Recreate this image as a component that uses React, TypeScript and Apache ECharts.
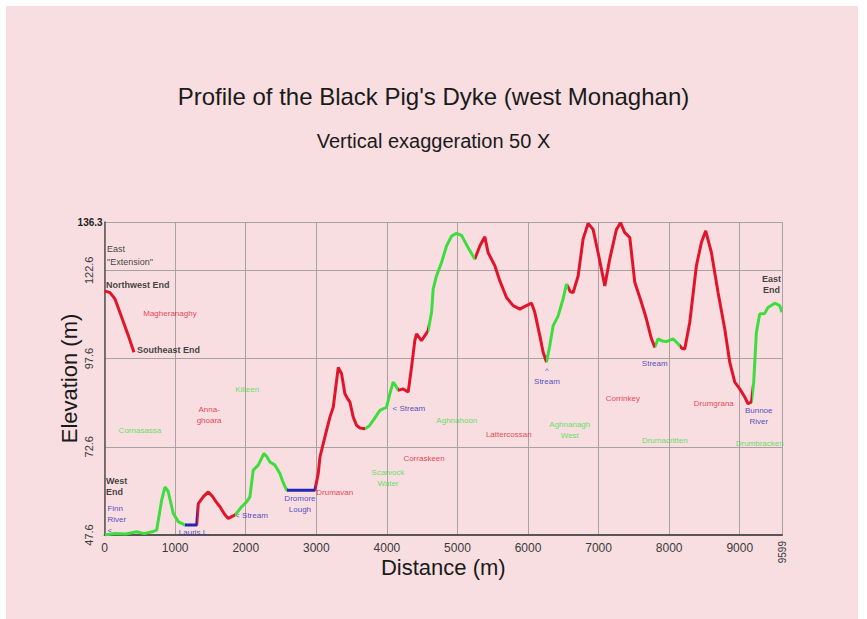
import React, { useEffect, useRef } from 'react';
import * as echarts from 'echarts';

const BASE = 47.6;
const TOP = 136.3;
const X_MAX = 9599;
const X_INTERVAL = 1000;
const Y_INTERVAL = 25;

const titleText = "Profile of the Black Pig's Dyke (west Monaghan)";
const subtitleText = 'Vertical exaggeration 50 X';

// East "Extension" profile (distance m, elevation m)
const extDist = [0, 76, 147, 242, 336, 416];
const extElev = [116.8, 116.3, 114.5, 109.3, 104.1, 99.4];

// Main profile
const profDist = [
  0, 150, 300, 455, 560, 690, 738, 809, 855, 900, 973, 1044, 1139, 1305, 1328, 1400, 1469, 1530, 1580,
  1635, 1700, 1752, 1800, 1847, 1942, 2012, 2059, 2106, 2177, 2258, 2300, 2343, 2414, 2484, 2530, 2579,
  2980, 3027, 3052, 3122, 3193, 3240, 3311, 3358, 3405, 3450, 3476, 3523, 3570, 3620, 3688, 3750, 3806,
  3901, 3995, 4042, 4089, 4137, 4160, 4231, 4302, 4349, 4396, 4420, 4491, 4585, 4633, 4656, 4703, 4774,
  4845, 4916, 4987, 5058, 5152, 5246, 5317, 5388, 5435, 5530, 5601, 5695, 5789, 5884, 5955, 6050, 6096,
  6167, 6214, 6262, 6309, 6356, 6427, 6497, 6545, 6600, 6639, 6710, 6780, 6851, 6922, 6993, 7088, 7158,
  7253, 7310, 7371, 7442, 7513, 7607, 7678, 7749, 7796, 7843, 7900, 7961, 8055, 8126, 8180, 8221, 8292,
  8386, 8457, 8518, 8599, 8693, 8788, 8859, 8930, 9000, 9071, 9118, 9166, 9198, 9236, 9283, 9354, 9401,
  9496, 9566, 9599,
];
const profElev = [
  47.6, 48.0, 47.9, 48.5, 48.0, 48.6, 49.0, 57.5, 61.2, 60.0, 53.7, 51.4, 50.4, 50.4, 56.5, 58.5, 59.8, 58.5, 57.0,
  55.6, 53.5, 52.3, 52.8, 53.2, 55.6, 57.0, 58.4, 66.0, 67.4, 70.7, 69.8, 68.3, 67.4, 65.0, 62.5, 60.3,
  60.3, 65.0, 69.7, 75.4, 81.0, 83.8, 95.1, 93.3, 87.6, 86.0, 85.3, 81.0, 78.7, 77.9, 77.7, 78.5, 80.1,
  82.9, 83.8, 87.6, 90.9, 89.5, 88.6, 89.0, 88.1, 95.1, 102.7, 104.6, 102.7, 105.5, 110.7, 117.3, 121.0, 124.8,
  129.5, 132.3, 133.1, 132.5, 129.0, 125.8, 129.5, 132.1, 127.6, 123.9, 119.6, 114.9, 112.6, 111.6, 112.4, 113.3, 110.7,
  104.1, 99.4, 96.6, 101.3, 106.9, 109.7, 114.5, 118.7, 116.5, 116.3, 121.0, 131.4, 135.9, 134.2, 127.6, 118.2, 125.8,
  134.2, 136.1, 133.3, 131.9, 119.2, 113.5, 108.8, 103.2, 100.8, 103.2, 102.6, 102.4, 103.2, 101.8, 100.5, 100.3, 107.9,
  123.9, 130.5, 133.8, 127.6, 116.3, 106.0, 96.5, 90.9, 89.0, 86.7, 84.8, 85.3, 90.9, 105.0, 110.2, 110.4, 112.1,
  113.3, 112.6, 110.7,
];

// Colour sections of the main profile (start distance, kind)
const segStart = [0, 1139, 1305, 1847, 2579, 2980, 3688, 4160, 4585, 5246, 6262, 6570, 7796, 8160, 9170];
const segKind = ['g', 'b', 'r', 'g', 'b', 'r', 'g', 'r', 'g', 'r', 'g', 'r', 'g', 'r', 'g'];

// Annotations
const noteText = [
  'East\n"Extension"', 'Northwest End', 'Magheranaghy', 'Southeast End', 'Killeen', 'Anna-\nghoara',
  'Cornasassa', 'West\nEnd', 'Finn\nRiver\n<', 'Lauris L.', '< Stream', 'Dromore\nLough', 'Drumavan',
  'Scarvock\nWater', 'Corraskeen', '< Stream', 'Aghnahoon', 'Lattercossan', 'Aghnanagh\nWest',
  '^\nStream', 'Corrinkey', 'Stream', 'Drumgrana', 'Bunnoe\nRiver', 'Drumacritten', 'Drumbracken', 'East\nEnd',
];
const noteDist = [
  34, 20, 926, 460, 2020, 1481, 501, 20, 40, 1269, 1850, 2768, 3000, 4016, 4527, 4080, 4991, 5728, 6592,
  6268, 7343, 7796, 8632, 9269, 7938, 9283, 9450,
];
const noteElev = [
  126.7, 118.5, 110.3, 99.9, 88.8, 81.5, 77.3, 61.4, 52.1, 48.2, 53.0, 56.4, 59.7, 63.7, 69.4, 83.5, 80.1, 76.1, 77.3,
  92.8, 86.3, 96.2, 84.9, 81.2, 74.4, 73.6, 118.5,
];
const noteKind = [
  'k', 'kb', 'r', 'kb', 'g', 'r', 'g', 'kb', 'b', 'b', 'b', 'b', 'r', 'g', 'r', 'b', 'g', 'r', 'g',
  'b', 'r', 'b', 'r', 'b', 'g', 'g', 'kb',
];
const noteAlign = [
  'left', 'left', 'center', 'left', 'center', 'center', 'center', 'left', 'left', 'center', 'left', 'center', 'left',
  'center', 'center', 'left', 'center', 'center', 'center', 'center', 'center', 'center', 'center', 'center',
  'center', 'center', 'center',
];

const COLORS: Record<string, string> = {
  r: '#e2142a',
  g: '#3ddd3d',
  b: '#2424b8',
  k: '#111111',
  kb: '#111111',
};

const FONT = '"Liberation Sans", Arial, Helvetica, sans-serif';

export default function App() {
  const ref = useRef<HTMLDivElement>(null);

  useEffect(() => {
    if (!ref.current) return;
    const chart = echarts.init(ref.current, undefined, { renderer: 'svg' });
    const yMax = TOP - BASE;

    const pieces = segStart.map((s, i) => {
      const p: any = { gte: s, color: COLORS[segKind[i]] };
      if (i < segStart.length - 1) p.lt = segStart[i + 1];
      else p.lte = X_MAX + 1;
      return p;
    });

    const notes = noteText.map((t, i) => ({
      value: [noteDist[i], noteElev[i] - BASE],
      label: {
        formatter: t,
        color: COLORS[noteKind[i]],
        fontWeight: noteKind[i] === 'kb' ? 'bold' : 'normal',
        fontSize: noteKind[i] === 'kb' || noteKind[i] === 'k' ? 9 : 8,
        align: noteAlign[i],
        lineHeight: noteKind[i] === 'k' ? 13 : 11,
      },
    }));

    const axisLabelBase = { fontFamily: FONT, color: '#3a3a3a' };

    chart.setOption({
      animation: false,
      backgroundColor: 'transparent',
      textStyle: { fontFamily: FONT },
      title: [
        {
          text: titleText,
          left: 'center',
          top: 79,
          textStyle: { fontSize: 24, fontWeight: 'normal', color: '#1a1a1a', fontFamily: FONT },
        },
        {
          text: subtitleText,
          left: 'center',
          top: 126,
          textStyle: { fontSize: 20, fontWeight: 'normal', color: '#1a1a1a', fontFamily: FONT },
        },
      ],
      grid: { left: 104.6, right: 85, top: 222, bottom: 84, containLabel: false },
      visualMap: {
        show: false,
        type: 'piecewise',
        dimension: 0,
        seriesIndex: 1,
        pieces,
      },
      xAxis: [
        {
          type: 'value',
          min: 0,
          max: X_MAX,
          interval: X_INTERVAL,
          axisLine: { show: true, lineStyle: { color: '#5a5555', width: 2 } },
          axisTick: { show: false },
          splitLine: { show: true, lineStyle: { color: '#a8a0a2', width: 1 } },
          axisLabel: {
            ...axisLabelBase,
            fontSize: 12,
            margin: 7,
            formatter: (v: number) => (v >= X_MAX ? '' : String(v)),
          },
          name: 'Distance (m)',
          nameLocation: 'middle',
          nameGap: 21,
          nameMoveOverlap: false,
          nameTextStyle: { fontSize: 22, color: '#1a1a1a', fontFamily: FONT },
        },
        {
          type: 'value',
          position: 'bottom',
          min: 0,
          max: X_MAX,
          interval: X_INTERVAL,
          axisLine: { show: false },
          axisTick: { show: false },
          splitLine: { show: false },
          axisLabel: {
            ...axisLabelBase,
            fontSize: 10,
            margin: 6,
            rotate: 90,
            formatter: (v: number) => (v >= X_MAX ? String(X_MAX) : ''),
          },
        },
      ],
      yAxis: [
        {
          type: 'value',
          min: 0,
          max: yMax,
          interval: Y_INTERVAL,
          axisLine: { show: true, lineStyle: { color: '#5a5555', width: 1.5 } },
          axisTick: { show: false },
          splitLine: { show: true, lineStyle: { color: '#a8a0a2', width: 1 } },
          axisLabel: {
            ...axisLabelBase,
            fontSize: 11,
            margin: 10,
            rotate: 90,
            formatter: (v: number) => (v >= yMax - 1e-6 ? '' : (v + BASE).toFixed(1)),
          },
          name: 'Elevation (m)',
          nameLocation: 'middle',
          nameGap: 24,
          nameMoveOverlap: false,
          nameTextStyle: { fontSize: 22, color: '#1a1a1a', fontFamily: FONT },
        },
        {
          type: 'value',
          position: 'left',
          min: 0,
          max: yMax,
          interval: Y_INTERVAL,
          axisLine: { show: false },
          axisTick: { show: false },
          splitLine: { show: false },
          axisLabel: {
            ...axisLabelBase,
            fontSize: 10,
            fontWeight: 'bold',
            color: '#222',
            margin: 2,
            formatter: (v: number) => (v >= yMax - 1e-6 ? TOP.toFixed(1) : ''),
          },
        },
      ],
      series: [
        {
          type: 'line',
          name: 'East Extension',
          data: extDist.map((d, i) => [d, extElev[i] - BASE]),
          showSymbol: false,
          lineStyle: { color: COLORS.r, width: 3 },
          itemStyle: { color: COLORS.r },
          silent: true,
        },
        {
          type: 'line',
          name: 'Profile',
          data: profDist.map((d, i) => [d, profElev[i] - BASE]),
          showSymbol: false,
          lineStyle: { width: 3 },
          silent: true,
        },
        {
          type: 'scatter',
          name: 'Notes',
          data: notes,
          symbolSize: 0,
          silent: true,
          label: { show: true, position: 'inside', fontFamily: FONT },
        },
      ],
    });

    return () => chart.dispose();
  }, []);

  return (
    <div style={{ position: 'fixed', left: 0, top: 0, width: 867, height: 619, background: '#ffffff' }}>
      <div
        style={{ position: 'absolute', left: 6, top: 6, width: 852, height: 613, background: '#f8dee1' }}
      />
      <div ref={ref} style={{ position: 'absolute', left: 0, top: 0, width: 867, height: 619 }} />
    </div>
  );
}
